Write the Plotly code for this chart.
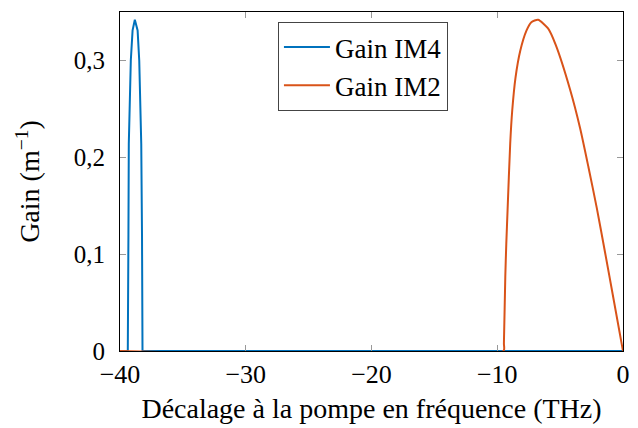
import plotly.graph_objects as go

# Gain IM4 (blue)
im4_x = [-40.0, -39.38, -39.33, -39.30, -39.14, -39.00, -38.82, -38.60, -38.47, -38.31, -38.25, -38.21, 0.0]
im4_y = [0.0, 0.0, 0.12, 0.214, 0.300, 0.331, 0.342, 0.331, 0.300, 0.214, 0.12, 0.0, 0.0]

# Gain IM2 (orange)
im2_x = [-40.0, -9.50, -9.47, -9.36, -9.28, -9.18, -8.97, -8.81, -8.55, -8.17, -7.67,
         -7.29, -6.75, -5.96, -5.35, -4.21, -3.41, -2.75, -2.09, -1.43, -0.77, 0.0]
im2_y = [0.0, 0.0, 0.008, 0.077, 0.111, 0.145, 0.214, 0.248, 0.282, 0.310, 0.331,
         0.3395, 0.342, 0.333, 0.316, 0.270, 0.230, 0.190, 0.148, 0.102, 0.055, 0.0]

x_ticks = [-40, -30, -20, -10, 0]
y_ticks = [0, 0.1, 0.2, 0.3]
y_ticklabels = ["0", "0,1", "0,2", "0,3"]

FONT = "Liberation Serif, DejaVu Serif, Times New Roman, serif"

fig = go.Figure()
fig.add_trace(go.Scatter(x=im4_x, y=im4_y, mode="lines", name="Gain IM4",
                         line=dict(color="#0072BD", width=2)))
fig.add_trace(go.Scatter(x=im2_x, y=im2_y, mode="lines", name="Gain IM2",
                         line=dict(color="#D95319", width=2, shape="spline", smoothing=0.6)))

# the page body has an 8px margin, so the figure is 630x420 and sits at (8, 8)
fig.update_layout(
    width=630, height=420,
    margin=dict(l=112, r=15, t=4, b=77, autoexpand=False),
    paper_bgcolor="white", plot_bgcolor="white",
    separators=", ",
    font=dict(family=FONT, size=25, color="black"),
    showlegend=True,
    legend=dict(x=0.314, y=0.9705, xanchor="left", yanchor="top",
                bgcolor="white", bordercolor="#444", borderwidth=1,
                font=dict(family=FONT, size=27), tracegroupgap=0,
                itemwidth=46),
)
fig.update_xaxes(
    range=[-40, 0], tickvals=x_ticks, showgrid=False, zeroline=False, automargin=False,
    showline=True, linecolor="black", linewidth=1, mirror="ticks",
    ticks="inside", ticklen=6, tickcolor="#999", tickwidth=1,
    tickfont=dict(family=FONT, size=26), ticklabelstandoff=0,
    title=dict(text="Décalage à la pompe en fréquence (THz)",
               font=dict(family=FONT, size=28), standoff=10),
)
fig.update_yaxes(
    range=[0, 0.35], tickvals=y_ticks, ticktext=y_ticklabels, showgrid=False, zeroline=False,
    automargin=False,
    showline=True, linecolor="black", linewidth=1, mirror="ticks",
    ticks="inside", ticklen=6, tickcolor="#999", tickwidth=1,
    tickfont=dict(family=FONT, size=25), ticklabelstandoff=9,
    title=dict(text="Gain (m<sup>−1</sup>)", font=dict(family=FONT, size=28), standoff=25),
)

fig.write_html("out.html")
